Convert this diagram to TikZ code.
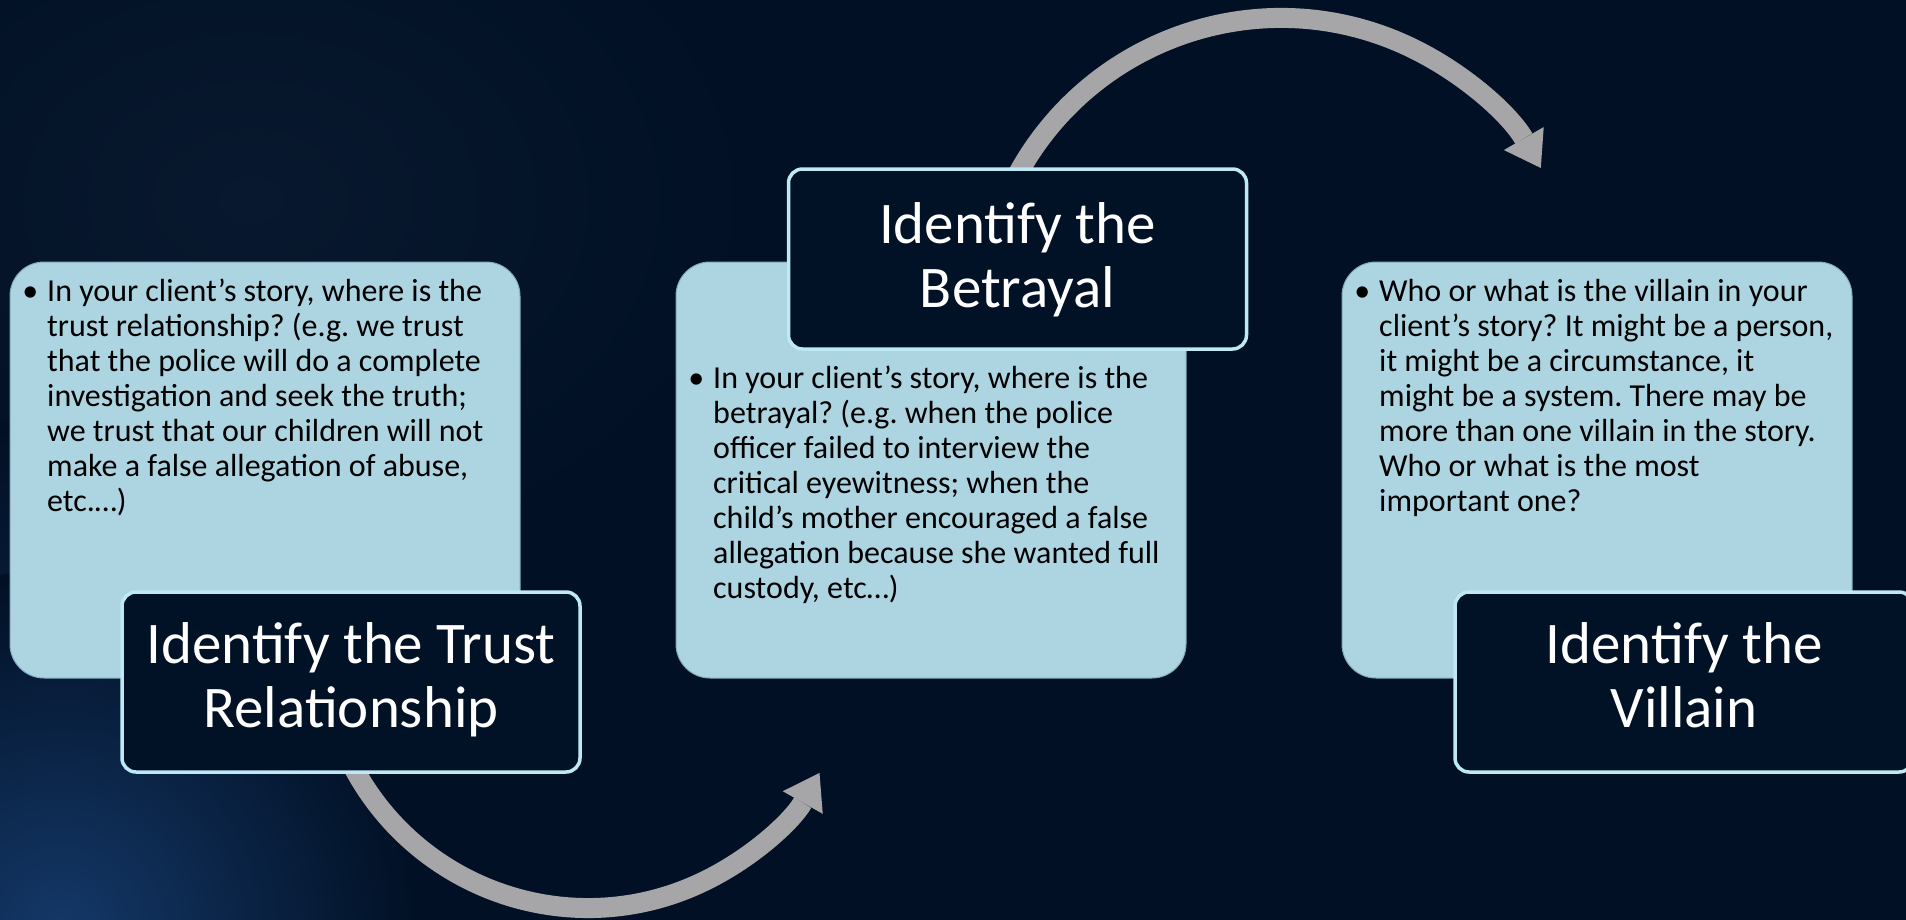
\documentclass[tikz,border=0pt]{standalone}
\usepackage{fontspec}
\setmainfont{Carlito}
\usetikzlibrary{arrows.meta}
\definecolor{bg}{RGB}{1,16,36}
\definecolor{bgtop}{RGB}{8,24,46}
\definecolor{glow}{RGB}{20,56,104}
\definecolor{glowb}{RGB}{10,34,66}
\definecolor{lightfill}{RGB}{172,212,225}
\definecolor{lightedge}{RGB}{130,170,188}
\definecolor{darkfill}{RGB}{1,17,38}
\definecolor{darkedge}{RGB}{190,232,246}
\definecolor{arrowgray}{RGB}{166,166,168}
\begin{document}
\frenchspacing
\begin{tikzpicture}[x=1pt,y=-1pt,
  lightbox/.style={draw=lightedge, line width=1pt, fill=lightfill, rounded corners=34pt,
    minimum width=510pt, minimum height=416pt, inner sep=0pt},
  darkbox/.style={draw=darkedge, line width=3.5pt, fill=darkfill, rounded corners=14pt,
    minimum width=458pt, minimum height=180pt, inner sep=0pt},
  bodytext/.style={anchor=north west, inner sep=0pt, align=left, text=black,
    font=\fontsize{32}{35}\selectfont\frenchspacing},
  titletext/.style={anchor=north, inner sep=0pt, align=center, text=white,
    font=\fontsize{59}{64}\selectfont},
  conn/.style={draw=arrowgray, line width=20pt,
    -{Triangle[width=46pt, length=34pt, line width=0pt]}}
]
\useasboundingbox (0,0) rectangle (1906,919);
% background (slightly larger than the page so no edge shows)
\fill[bg] (-12,-12) rectangle (1918,931);
\shade[inner color=bgtop, outer color=bg] (250,200) ellipse (520 and 380);
\shade[inner color=glowb, outer color=bg] (0,720) circle (300);
\shade[inner color=glow, outer color=bg] (60,930) circle (360);

% connectors (behind the boxes)
\coordinate (a1s) at (346.9,754.4);
\coordinate (a2s) at (1009.1,191.2);
\draw[conn] (a1s) arc[start angle=205, end angle=330.5, radius=266pt];
\draw[conn] (a2s) arc[start angle=155, end angle=30, radius=300pt];

% light boxes
\node[lightbox] (lb1) at (265,470) {};
\node[lightbox] (lb2) at (931,470) {};
\node[lightbox] (lb3) at (1597,470) {};

% dark boxes
\node[darkbox] (db1) at (351,682) {};
\node[darkbox] (db2) at (1017.5,259) {};
\node[darkbox] (db3) at (1684,682) {};

% body texts
\node[bodytext] (t1) at (47,276.5) {\strut\makebox[0pt][r]{•\hspace{9pt}}In your client’s story, where is the\\
trust relationship? (e.g. we trust\\
that the police will do a complete\\
investigation and seek the truth;\\
we trust that our children will not\\
make a false allegation of abuse,\\
etc.…)};
\node[bodytext] (t2) at (713,363.5) {\strut\makebox[0pt][r]{•\hspace{9pt}}In your client’s story, where is the\\
betrayal? (e.g. when the police\\
officer failed to interview the\\
critical eyewitness; when the\\
child’s mother encouraged a false\\
allegation because she wanted full\\
custody, etc…)};
\node[bodytext] (t3) at (1379,276.5) {\strut\makebox[0pt][r]{•\hspace{9pt}}Who or what is the villain in your\\
client’s story? It might be a person,\\
it might be a circumstance, it\\
might be a system. There may be\\
more than one villain in the story.\\
Who or what is the most\\
important one?};

% titles
\node[titletext] (h1) at (351,618.2) {\strut Identify the Trust\\Relationship};
\node[titletext] (h2) at (1017.5,198.2) {\strut Identify the\\Betrayal};
\node[titletext] (h3) at (1684,618.2) {\strut Identify the\\Villain};
\end{tikzpicture}
\end{document}
